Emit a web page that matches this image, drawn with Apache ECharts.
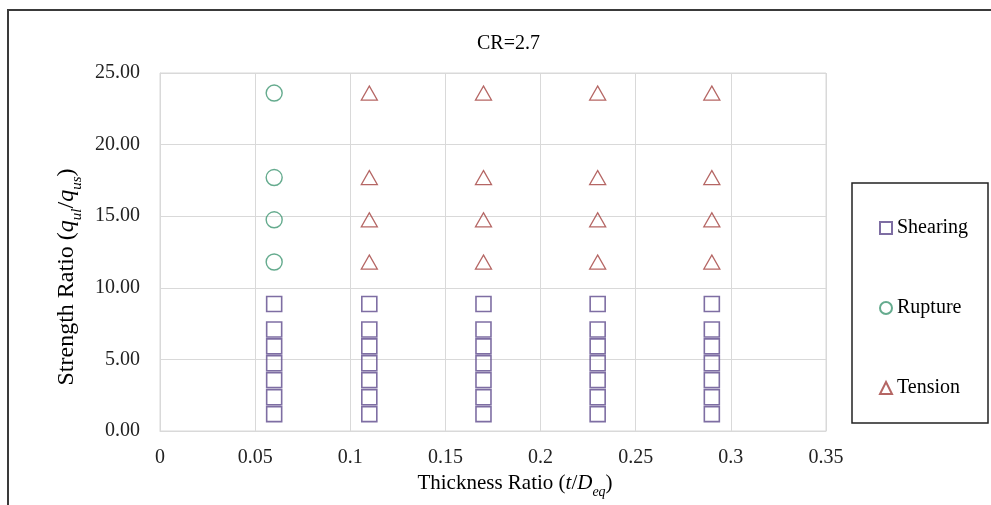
<!DOCTYPE html>
<html>
<head>
<meta charset="utf-8">
<style>
  html, body { margin: 0; padding: 0; background: #fff; }
  #chart { width: 991px; height: 505px; }
</style>
<script src="https://cdn.jsdelivr.net/npm/echarts@6/dist/echarts.min.js"></script>
</head>
<body>
<div id="chart"></div>
<script>
// thickness ratios where each failure mode shows up
var shearX = [0.06, 0.11, 0.17, 0.23, 0.29]
var ruptureX = [0.06]
var tensionX = [0.11, 0.17, 0.23, 0.29]

// strength ratios (same set of levels for every thickness)
var shearY = [1.18, 2.36, 3.55, 4.73, 5.91, 7.09, 8.87]
var upperY = [11.8, 14.75, 17.7, 23.6]

var xTicks = [0, 0.05, 0.1, 0.15, 0.2, 0.25, 0.3, 0.35]
var yTicks = [0, 5, 10, 15, 20, 25]

function pairs(xs, ys) {
  var out = []
  xs.forEach(function (x) {
    ys.forEach(function (y) { out.push([x, y]) })
  })
  return out
}

var serif = '"Liberation Serif", "Times New Roman", serif'
var el = document.getElementById('chart')
var chart = echarts.init(el)

function richSet(size, subSize) {
  return {
    n: { fontFamily: serif, fontSize: size, color: '#000' },
    i: { fontFamily: serif, fontSize: size, fontStyle: 'italic', color: '#000' },
    s: { fontFamily: serif, fontSize: subSize, fontStyle: 'italic', color: '#000', verticalAlign: 'bottom', padding: [0, 0, -Math.round(subSize / 3), 0] }
  }
}

chart.setOption({
  backgroundColor: '#fff',
  animation: false,
  title: {
    text: 'CR=2.7',
    left: 472,
    top: 29,
    textStyle: { fontFamily: serif, fontSize: 20, fontWeight: 'normal', color: '#000' }
  },
  legend: {
    orient: 'vertical',
    left: 874,
    top: 213,
    itemGap: 60,
    itemWidth: 12,
    itemHeight: 12,
    textStyle: { fontFamily: serif, fontSize: 20, color: '#000' },
    data: ['Shearing', 'Rupture', 'Tension']
  },
  graphic: [
    {
      type: 'rect',
      shape: { x: 8, y: 10, width: 1100, height: 600 },
      style: { fill: 'none', stroke: '#3a3a3a', lineWidth: 2 },
      silent: true
    },
    {
      type: 'rect',
      shape: { x: 852, y: 183, width: 136, height: 240 },
      style: { fill: 'none', stroke: '#222', lineWidth: 1.5 },
      silent: true
    }
  ],
  grid: {
    left: 160, right: 165, top: 73, bottom: 74,
    show: true, borderColor: '#d9d9d9', borderWidth: 1,
    outerBoundsMode: 'none'
  },
  xAxis: {
    type: 'value',
    min: xTicks[0],
    max: xTicks[xTicks.length - 1],
    interval: 0.05,
    axisLine: { lineStyle: { color: '#d9d9d9' } },
    axisTick: { show: false },
    splitLine: { lineStyle: { color: '#d9d9d9' } },
    axisLabel: { margin: 17, fontFamily: serif, fontSize: 20, color: '#222' },
    name: '{n|Thickness Ratio (}{i|t}{n|/}{i|D}{s|eq}{n|)}',
    nameLocation: 'middle',
    nameGap: 40,
    nameTextStyle: { padding: [0, 0, 0, 44], rich: richSet(21, 14) }
  },
  yAxis: {
    type: 'value',
    min: yTicks[0],
    max: yTicks[yTicks.length - 1],
    interval: 5,
    axisLine: { show: true, lineStyle: { color: '#d9d9d9' } },
    axisTick: { show: false },
    splitLine: { lineStyle: { color: '#d9d9d9' } },
    axisLabel: {
      margin: 20, fontFamily: serif, fontSize: 20, color: '#222',
      formatter: function (v) { return v.toFixed(2) }
    },
    name: '{n|Strength Ratio (}{i|q}{s|ul}{n|/}{i|q}{s|us}{n|)}',
    nameLocation: 'middle',
    nameGap: 76,
    nameTextStyle: { padding: [0, 50, 0, 0], rich: richSet(24, 15) }
  },
  series: [
    {
      name: 'Shearing',
      type: 'scatter',
      symbol: 'rect',
      symbolSize: 15,
      itemStyle: { color: 'rgba(255,255,255,0)', borderColor: '#5e4a8c', borderWidth: 1.6 },
      data: pairs(shearX, shearY)
    },
    {
      name: 'Rupture',
      type: 'scatter',
      symbol: 'circle',
      symbolSize: 16,
      itemStyle: { color: 'rgba(255,255,255,0)', borderColor: '#3f9672', borderWidth: 1.4 },
      data: pairs(ruptureX, upperY)
    },
    {
      name: 'Tension',
      type: 'scatter',
      symbol: 'triangle',
      symbolSize: [16, 14],
      itemStyle: { color: 'rgba(255,255,255,0)', borderColor: '#a3403d', borderWidth: 1.3 },
      data: pairs(tensionX, upperY)
    }
  ]
})

window.addEventListener('resize', function () { chart.resize() })
</script>
</body>
</html>
